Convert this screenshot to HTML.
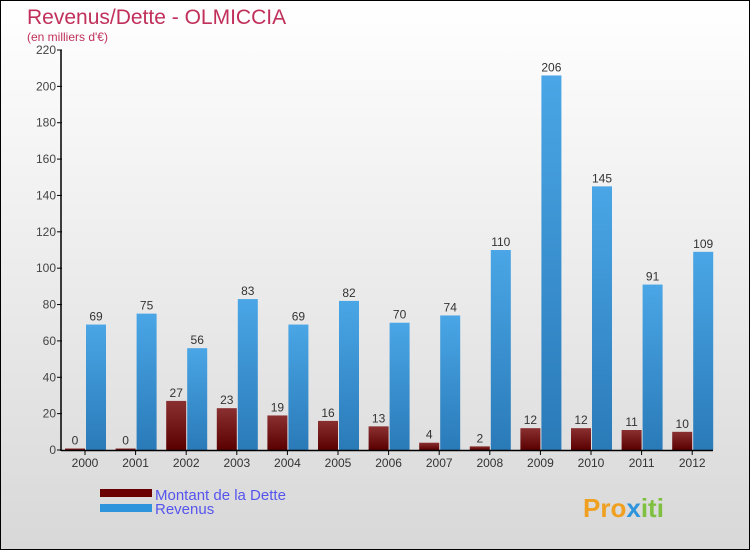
<!DOCTYPE html>
<html><head><meta charset="utf-8"><style>
body{margin:0}
#c{position:relative;width:748px;height:548px;border:1px solid #000;background:linear-gradient(#fff,#d8d8d8);font-family:"Liberation Sans",sans-serif;overflow:hidden}
</style></head><body>
<div id="c">
<svg id="s" width="748" height="548" style="position:absolute;left:0;top:0">
<text x="26" y="23" font-size="21" fill="#c0305a">Revenus/Dette - OLMICCIA</text>
<text x="26" y="40" font-size="12" fill="#c0305a">(en milliers d'€)</text>
<g id="g"></g>
<rect x="99" y="488" width="52" height="8" fill="#6b0000"/>
<rect x="99" y="503" width="52" height="8" fill="#2e95dc"/>
<text x="154" y="499" font-size="15" fill="#5555ee">Montant de la Dette</text>
<text x="154" y="513" font-size="15" fill="#5555ee">Revenus</text>
<text x="582" y="516" font-size="26" font-weight="bold" fill="#f0a020">Pro<tspan fill="#2e95dc">x</tspan><tspan fill="#80c040">iti</tspan></text>
</svg>
</div>
<script>
const years=["2000","2001","2002","2003","2004","2005","2006","2007","2008","2009","2010","2011","2012"];
const dette=[0,0,27,23,19,16,13,4,2,12,12,11,10];
const revenus=[69,75,56,83,69,82,70,74,110,206,145,91,109];
const ticks=[0,20,40,60,80,100,120,140,160,180,200,220];
const NS="http://www.w3.org/2000/svg";
const g=document.getElementById('g');
const y=v=>449-v*400/220;
const xc=i=>84+i*50.6;
function mk(t,a){const e=document.createElementNS(NS,t);for(const k in a)e.setAttribute(k,a[k]);g.appendChild(e);return e;}
const defs=mk('defs',{});
defs.innerHTML='<linearGradient id="gr" x1="0" y1="0" x2="0" y2="1"><stop offset="0" stop-color="#8a3030"/><stop offset="1" stop-color="#5a0000"/></linearGradient><linearGradient id="gb" x1="0" y1="0" x2="0" y2="1"><stop offset="0" stop-color="#4aa6e6"/><stop offset="1" stop-color="#2a7ab8"/></linearGradient>';
ticks.forEach(t=>{
 const l=mk('line',{x1:56,x2:61,y1:y(t),y2:y(t),stroke:'#000'});
 
 
 const tx=mk('text',{x:55,y:y(t)+4,'font-size':12,fill:'#444','text-anchor':'end'});
 tx.textContent=t;
 
 
});
years.forEach((yr,i)=>{
 const c=xc(i);
 const h1=Math.max(449-y(dette[i]),1.5);
 const b1=mk('rect',{x:c-20,y:449-h1,width:20,height:h1,fill:'url(#gr)'});
 
 
 const b2=mk('rect',{x:c+1,y:y(revenus[i]),width:20,height:449-y(revenus[i]),fill:'url(#gb)'});
 
 
 const t1=mk('text',{x:c-10,y:449-h1-4,'font-size':12,fill:'#333','text-anchor':'middle'});
 t1.textContent=dette[i];
 
 
 const t2=mk('text',{x:c+11,y:y(revenus[i])-4,'font-size':12,fill:'#333','text-anchor':'middle'});
 t2.textContent=revenus[i];
 
 
 const tk=mk('line',{x1:c,x2:c,y1:449,y2:454,stroke:'#000'});
 
 
 const xl=mk('text',{x:c,y:466,'font-size':12,fill:'#333','text-anchor':'middle'});
 xl.textContent=yr;
 
 
});
const ya=mk('line',{x1:60,x2:60,y1:y(220),y2:450,stroke:'#000','stroke-width':1.5});


const xa=mk('line',{x1:60,x2:712,y1:449.5,y2:449.5,stroke:'#000','stroke-width':1.5});


</script>
</body></html>
